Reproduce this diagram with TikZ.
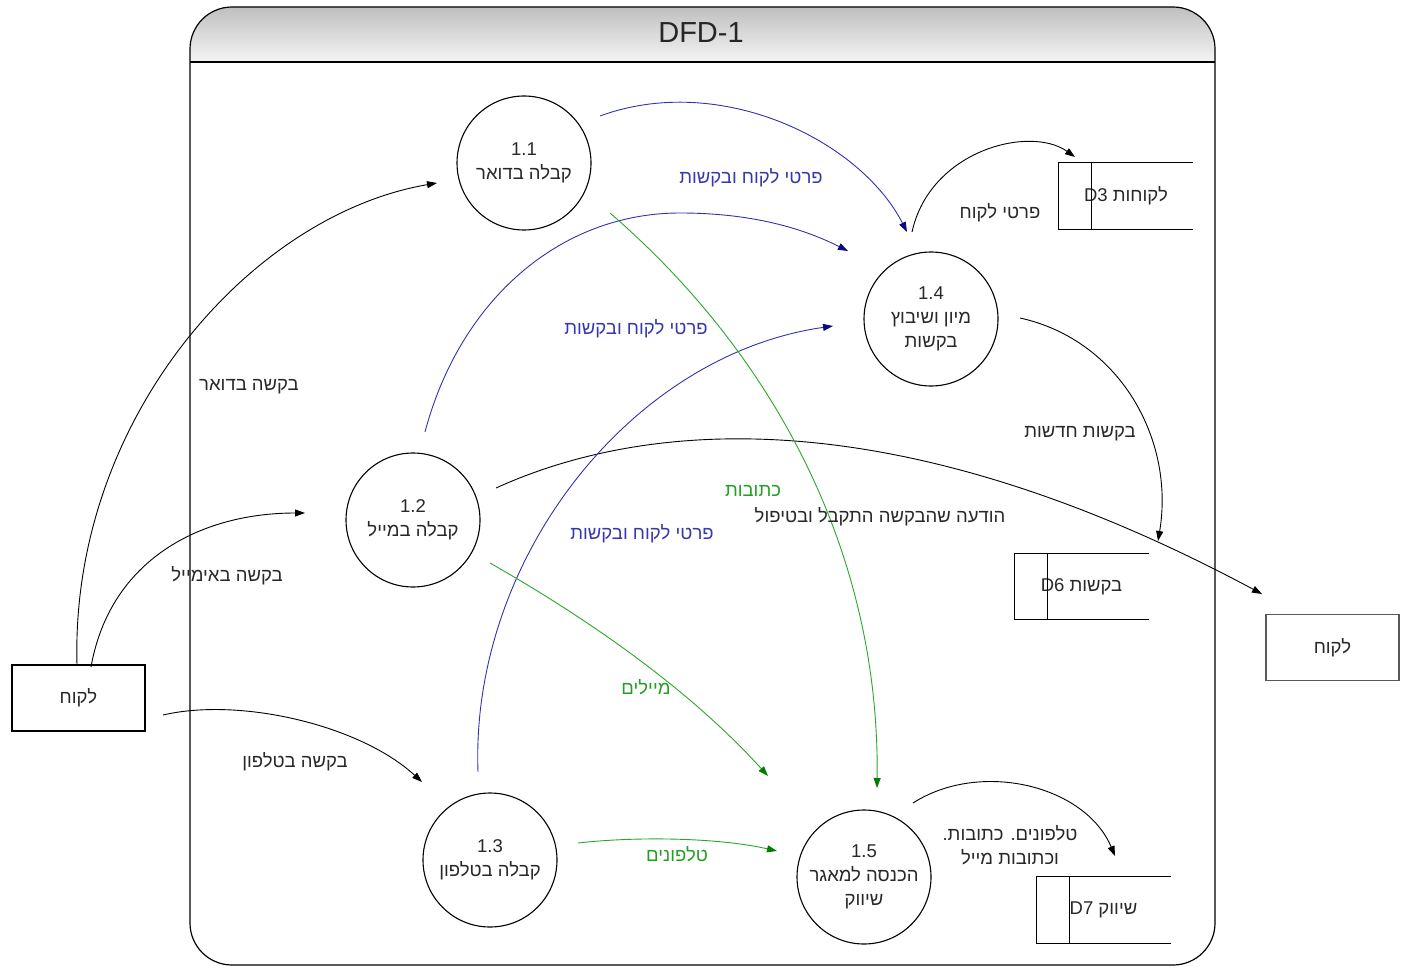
\documentclass[tikz,border=0pt]{standalone}
\usepackage{fontspec}
\setmainfont{Liberation Sans}
\newfontfamily\heb[Script=Hebrew]{Liberation Sans}
\TeXXeTstate=1
\usetikzlibrary{arrows.meta}
\newcommand{\hebt}[1]{{\heb\beginR #1\endR}}
\definecolor{bline}{RGB}{50,50,170}
\definecolor{btip}{RGB}{10,10,130}
\definecolor{blbl}{RGB}{55,55,175}
\definecolor{gline}{RGB}{45,165,45}
\definecolor{gtip}{RGB}{0,125,0}
\definecolor{glbl}{RGB}{35,160,35}
\definecolor{txt}{RGB}{40,40,40}
\tikzset{
  proc/.style={circle,draw,line width=1.1pt,minimum size=134pt,inner sep=0pt,align=center,text=txt},
  ent/.style={rectangle,draw,line width=1.1pt,minimum width=133pt,minimum height=66pt,inner sep=0pt,text=txt},
  storebox/.style={rectangle,minimum width=134pt,minimum height=66pt,inner sep=0pt,text=txt},
  lbl/.style={inner sep=1pt,text=txt},
  blbl/.style={inner sep=1pt,text=blbl},
  glbl/.style={inner sep=1pt,text=glbl},
  flow/.style={line width=0.9pt,-{Triangle[length=10pt,width=7pt]}},
  bflow/.style={flow,draw=bline,-{Triangle[length=10pt,width=7pt,color=btip]}},
  gflow/.style={flow,draw=gline,-{Triangle[length=10pt,width=7pt,color=gtip]}},
}
\begin{document}
\begin{tikzpicture}[x=1pt,y=-1pt,font=\fontsize{18.5}{24}\selectfont]
\useasboundingbox (0,0) rectangle (1410,968);
% frame
\begin{scope}
\clip[rounded corners=42] (190,965) -- (190,7) -- (1215,7) -- (1215,965) -- cycle;
\shade[top color=black!25,bottom color=black!4] (190,7) rectangle (1215,62);
\end{scope}
\draw[line width=1.2pt,rounded corners=42] (190,965) -- (190,7) -- (1215,7) -- (1215,965) -- cycle;
\draw[line width=1.2pt] (190,62) -- (1215,62);
\node[font=\fontsize{29}{31}\selectfont,text=black!85] (title) at (701,33) {DFD-1};

% processes
\node[proc] (p11) at (524,163) {1.1\\\hebt{קבלה בדואר}};
\node[proc] (p12) at (413,520) {1.2\\\hebt{קבלה במייל}};
\node[proc] (p13) at (490,860) {1.3\\\hebt{קבלה בטלפון}};
\node[proc] (p14) at (931,319) {1.4\\\hebt{מיון ושיבוץ}\\\hebt{בקשות}};
\node[proc] (p15) at (864,877) {1.5\\\hebt{הכנסה למאגר}\\\hebt{שיווק}};

% external entities
\node[ent] (cust1) at (78.5,698) {\hebt{לקוח}};
\node[ent,draw=black!65,line width=1.6pt] (cust2) at (1332.5,647.5) {\hebt{לקוח}};

% data stores
\node[storebox] (d3) at (1126,196) {D3 \hebt{לקוחות}};
\node[storebox] (d6) at (1081.5,586.5) {D6 \hebt{בקשות}};
\node[storebox] (d7) at (1103.5,910) {D7 \hebt{שיווק}};
\foreach \s in {d3,d6,d7}{
  \draw[line width=1.1pt] (\s.north east) -- (\s.north west) -- (\s.south west) -- (\s.south east);
  \draw[line width=1.1pt] ([xshift=33pt]\s.north west) -- ([xshift=33pt]\s.south west);
}

% connector end points
\coordinate (c1a) at (77,665);   \coordinate (c1b) at (437,183);
\coordinate (c2a) at (91,667);   \coordinate (c2b) at (305,513);
\coordinate (c3a) at (163,715);  \coordinate (c3b) at (422,782);
\coordinate (c4a) at (600,116);  \coordinate (c4b) at (907,232);
\coordinate (c5a) at (425,432);  \coordinate (c5m) at (680,213); \coordinate (c5b) at (848,251);
\coordinate (c6a) at (478,772);  \coordinate (c6b) at (833,326);
\coordinate (c7a) at (610,213);  \coordinate (c7b) at (877,788);
\coordinate (c8a) at (490,563);  \coordinate (c8b) at (768,776);
\coordinate (c9a) at (578,843);  \coordinate (c9b) at (777,851);
\coordinate (c10a) at (912,232); \coordinate (c10b) at (1075,157);
\coordinate (c11a) at (1020,318);\coordinate (c11b) at (1158,541);
\coordinate (c12a) at (496,488); \coordinate (c12b) at (1262,594);
\coordinate (c13a) at (913,803); \coordinate (c13b) at (1115,856);

% black flows
\draw[flow] (c1a) .. controls (70,420) and (250,215) .. (c1b);
\draw[flow] (c2a) .. controls (110,560) and (200,513) .. (c2b);
\draw[flow] (c3a) .. controls (240,697) and (360,725) .. (c3b);
\draw[flow] (c10a) .. controls (930,150) and (1030,125) .. (c10b);
\draw[flow] (c11a) .. controls (1120,340) and (1175,440) .. (c11b);
\draw[flow] (c12a) .. controls (650,418) and (900,400) .. (c12b);
\draw[flow] (c13a) .. controls (980,760) and (1085,785) .. (c13b);
% blue flows
\draw[bflow] (c4a) .. controls (720,72) and (860,140) .. (c4b);
\draw[bflow] (c5a) .. controls (460,300) and (560,213) .. (c5m) .. controls (760,213) and (810,232) .. (c5b);
\draw[bflow] (c6a) .. controls (470,560) and (630,355) .. (c6b);
% green flows
\draw[gflow] (c7a) .. controls (780,360) and (880,560) .. (c7b);
\draw[gflow] (c8a) .. controls (590,620) and (690,690) .. (c8b);
\draw[gflow] (c9a) .. controls (640,836) and (720,838) .. (c9b);

% labels
\node[lbl] (t1) at (249,387) {\hebt{בקשה בדואר}};
\node[lbl] (t2) at (227,576) {\hebt{בקשה באימייל}};
\node[lbl] (t3) at (295,762) {\hebt{בקשה בטלפון}};
\node[blbl] (t4) at (751,178) {\hebt{פרטי לקוח ובקשות}};
\node[blbl] (t5) at (636,329) {\hebt{פרטי לקוח ובקשות}};
\node[blbl] (t6) at (642,534) {\hebt{פרטי לקוח ובקשות}};
\node[glbl] (t7) at (753,491) {\hebt{כתובות}};
\node[glbl] (t8) at (646,687) {\hebt{מיילים}};
\node[glbl] (t9) at (677,854) {\hebt{טלפונים}};
\node[lbl] (t10) at (1000,213) {\hebt{פרטי לקוח}};
\node[lbl] (t11) at (1080,434) {\hebt{בקשות חדשות}};
\node[lbl] (t12) at (880,517) {\hebt{הודעה שהבקשה התקבל ובטיפול}};
\node[lbl,align=center] (t13) at (1010,845) {\hebt{טלפונים. כתובות.}\\\hebt{וכתובות מייל}};
\end{tikzpicture}
\end{document}
